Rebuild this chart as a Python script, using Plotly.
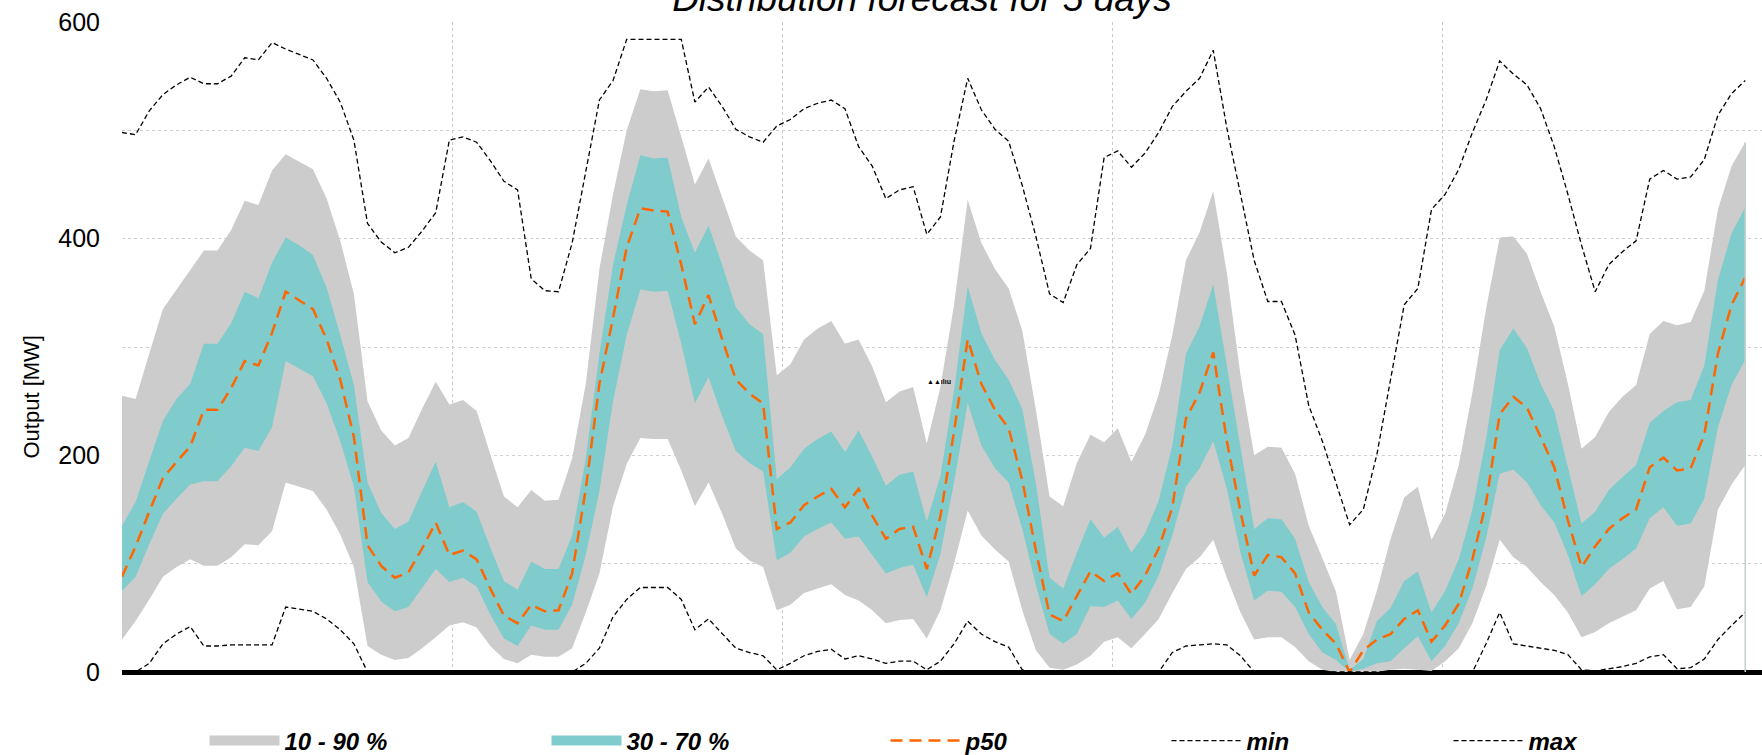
import plotly.graph_objects as go

# hourly index over 5 days
hours = list(range(120))

p10 = [30, 47, 67, 88, 97, 104, 98, 98, 106, 118,
       117, 130, 175, 171, 167, 150, 127, 97, 24, 16,
       11, 13, 22, 32, 43, 46, 41, 24, 12, 8,
       16, 14, 14, 22, 55, 91, 153, 192, 216, 215,
       215, 186, 153, 175, 146, 114, 103, 97, 57, 62,
       73, 77, 81, 71, 66, 57, 45, 48, 49, 31,
       57, 100, 149, 126, 113, 102, 57, 20, 4, 2,
       7, 15, 28, 32, 22, 35, 49, 73, 95, 106,
       122, 87, 55, 30, 32, 32, 23, 10, 2, 0,
       0, 0, 0, 2, 3, 2, 1, 10, 22, 45,
       79, 122, 106, 97, 83, 71, 55, 32, 37, 45,
       51, 57, 77, 84, 58, 60, 79, 150, 173, 191]

p30 = [75, 88, 118, 146, 160, 173, 176, 176, 190, 207,
       204, 226, 287, 280, 273, 248, 213, 171, 83, 65,
       56, 60, 77, 95, 83, 87, 79, 53, 31, 24,
       43, 39, 39, 62, 108, 167, 250, 311, 353, 351,
       352, 303, 248, 272, 236, 204, 193, 185, 103, 110,
       125, 132, 138, 123, 125, 108, 91, 96, 99, 69,
       109, 175, 248, 209, 188, 175, 132, 80, 35, 26,
       35, 61, 60, 66, 49, 64, 89, 126, 171, 188,
       213, 169, 110, 66, 75, 74, 60, 35, 18, 11,
       0, 3, 8, 10, 22, 33, 10, 24, 45, 77,
       123, 183, 187, 175, 154, 138, 108, 70, 81, 95,
       104, 114, 142, 152, 135, 137, 160, 226, 265, 288]

p50 = [88, 116, 148, 179, 194, 208, 242, 242, 262, 287,
       283, 313, 351, 343, 335, 307, 270, 217, 117, 98,
       87, 92, 114, 138, 108, 112, 104, 77, 52, 45,
       62, 56, 57, 91, 169, 266, 327, 392, 428, 426,
       425, 376, 321, 348, 307, 270, 257, 248, 132, 138,
       154, 162, 169, 152, 169, 144, 123, 132, 134, 95,
       144, 222, 307, 266, 242, 225, 177, 112, 53, 47,
       70, 93, 84, 91, 72, 89, 114, 152, 234, 258,
       295, 213, 148, 89, 108, 106, 91, 55, 39, 26,
       0, 20, 30, 35, 49, 57, 28, 43, 63, 104,
       156, 238, 254, 244, 217, 189, 140, 97, 116, 132,
       142, 150, 189, 198, 186, 188, 219, 294, 339, 364]

p70 = [135, 157, 195, 232, 252, 266, 303, 303, 322, 351,
       345, 378, 401, 394, 385, 355, 311, 265, 175, 147,
       132, 139, 167, 194, 152, 157, 148, 115, 84, 76,
       102, 95, 95, 126, 197, 294, 376, 431, 477, 474,
       475, 420, 387, 412, 376, 337, 321, 312, 178, 189,
       206, 215, 222, 203, 223, 199, 172, 182, 185, 139,
       181, 260, 356, 313, 288, 270, 243, 174, 87, 77,
       110, 141, 124, 134, 110, 128, 158, 209, 294, 319,
       358, 282, 209, 132, 142, 141, 123, 83, 60, 44,
       2, 12, 47, 59, 84, 93, 55, 75, 104, 150,
       215, 297, 317, 299, 266, 241, 189, 137, 148, 168,
       180, 191, 230, 241, 249, 251, 283, 362, 405, 429]

p90 = [255, 252, 294, 335, 353, 371, 389, 389, 408, 435,
       431, 463, 478, 471, 464, 437, 398, 349, 250, 223,
       209, 216, 243, 268, 247, 251, 241, 201, 162, 152,
       168, 158, 159, 197, 266, 372, 441, 500, 538, 536,
       537, 494, 450, 474, 439, 402, 389, 380, 274, 284,
       307, 317, 324, 303, 307, 282, 249, 259, 263, 211,
       263, 339, 436, 396, 372, 354, 315, 242, 162, 153,
       193, 219, 212, 225, 194, 219, 256, 311, 380, 406,
       444, 368, 274, 200, 208, 207, 183, 135, 105, 74,
       11, 35, 75, 123, 161, 171, 122, 146, 191, 258,
       335, 401, 402, 386, 351, 319, 266, 206, 217, 240,
       254, 265, 312, 324, 320, 323, 352, 427, 467, 489]

p_min = [0, 0, 8, 26, 35, 42, 24, 24, 25, 25,
         25, 25, 60, 58, 56, 49, 39, 26, 0, 0,
         0, 0, 0, 0, 0, 0, 0, 0, 0, 0,
         0, 0, 0, 0, 8, 22, 51, 67, 78, 78,
         78, 67, 39, 49, 35, 22, 18, 15, 2, 8,
         15, 19, 21, 12, 15, 12, 8, 10, 10, 2,
         10, 26, 47, 35, 28, 23, 2, 0, 0, 0,
         0, 0, 0, 0, 0, 0, 0, 18, 24, 25,
         26, 25, 15, 0, 0, 0, 0, 0, 0, 0,
         0, 0, 0, 0, 0, 0, 0, 0, 0, 0,
         26, 55, 26, 24, 22, 20, 16, 2, 1, 3,
         5, 8, 14, 16, 3, 4, 12, 30, 43, 55]

p_max = [498, 496, 518, 533, 542, 549, 543, 543, 550, 567,
         565, 581, 575, 570, 565, 548, 526, 491, 414, 397,
         387, 392, 407, 424, 491, 494, 489, 472, 453, 445,
         363, 352, 351, 396, 461, 528, 546, 584, 584, 584,
         584, 584, 526, 540, 522, 501, 494, 489, 504, 510,
         520, 525, 528, 520, 485, 467, 437, 445, 448, 404,
         420, 490, 548, 519, 501, 490, 449, 402, 349, 341,
         376, 391, 475, 481, 466, 479, 498, 522, 536, 548,
         574, 502, 441, 380, 342, 342, 311, 246, 213, 175,
         136, 150, 201, 270, 339, 354, 427, 441, 464, 498,
         528, 564, 552, 542, 520, 485, 441, 394, 351, 376,
         388, 398, 455, 463, 455, 457, 473, 514, 534, 546]

y_ticks = [0, 100, 200, 300, 400, 500, 600]
y_ticktext = ["0", "", "200", "", "400", "", "600"]
day_lines = [24.2, 48.4, 72.6, 96.8]

GRAY = "#cccccc"
TEAL = "#80cccc"
ORANGE = "#ff6600"
FONT = "Liberation Sans, Arial, sans-serif"

fig = go.Figure()

# bands
fig.add_trace(go.Scatter(x=hours, y=p10, mode="lines", line=dict(width=0, color=GRAY),
                         showlegend=False, hoverinfo="skip"))
fig.add_trace(go.Scatter(x=hours, y=p90, mode="lines", line=dict(width=0, color=GRAY),
                         fill="tonexty", fillcolor=GRAY, showlegend=False, name="10 - 90 %"))
fig.add_trace(go.Scatter(x=hours, y=p30, mode="lines", line=dict(width=0, color=TEAL),
                         showlegend=False, hoverinfo="skip"))
fig.add_trace(go.Scatter(x=hours, y=p70, mode="lines", line=dict(width=0, color=TEAL),
                         fill="tonexty", fillcolor=TEAL, showlegend=False, name="30 - 70 %"))

# legend entries for the bands
fig.add_trace(go.Scatter(x=[None], y=[None], mode="lines", line=dict(color=GRAY, width=10),
                         name="10 - 90 %", legendwidth=257))
fig.add_trace(go.Scatter(x=[None], y=[None], mode="lines", line=dict(color=TEAL, width=10),
                         name="30 - 70 %", legendwidth=254))

# lines
fig.add_trace(go.Scatter(x=hours, y=p50, mode="lines", name="p50", legendwidth=196,
                         line=dict(color=ORANGE, width=2.5, dash="12px,7px")))
fig.add_trace(go.Scatter(x=hours, y=p_min, mode="lines", name="min", legendwidth=197,
                         line=dict(color="black", width=1.3, dash="5px,3px")))
fig.add_trace(go.Scatter(x=hours, y=p_max, mode="lines", name="max", legendwidth=80,
                         line=dict(color="black", width=1.3, dash="5px,3px")))

# right edge of the band area
fig.add_shape(type="line", x0=hours[-1], x1=hours[-1], y0=0, y1=p90[-1],
              line=dict(color="#c4d0d0", width=1.5), layer="above")

fig.update_layout(
    width=1762, height=755,
    margin=dict(l=122, r=0, t=22, b=83),
    paper_bgcolor="white", plot_bgcolor="white",
    font=dict(family=FONT, color="black"),
    title=dict(text="Distribution forecast for 5 days",
               font=dict(size=37, style="italic", color="black", family=FONT),
               xref="container", x=922 / 1762, xanchor="center",
               yref="container", y=1 - 11 / 755, yanchor="bottom"),
    xaxis=dict(range=[0, 120.23], tickvals=day_lines, showticklabels=False, ticks="",
               showgrid=True, gridcolor="#c8c8c8", griddash="dot", gridwidth=1,
               zeroline=False, showline=False, fixedrange=True),
    yaxis=dict(range=[0, 600], tickvals=y_ticks, ticktext=y_ticktext, ticks="",
               tickfont=dict(size=25, color="black", family=FONT), ticklabelstandoff=21,
               showgrid=True, gridcolor="#d0d0d0", griddash="dot", gridwidth=1,
               zeroline=True, zerolinecolor="black", zerolinewidth=5,
               showline=False, fixedrange=True),
    legend=dict(orientation="h", traceorder="normal",
                xref="container", x=204.5 / 1762, xanchor="left",
                yref="container", y=1 - 741 / 755, yanchor="middle",
                font=dict(size=24, family=FONT, weight="bold", style="italic", color="black"),
                itemwidth=70, bgcolor="rgba(0,0,0,0)", borderwidth=0),
    showlegend=True,
)

# y-axis title
fig.add_annotation(text="Output [MW]", textangle=-90, xref="paper", yref="paper",
                   x=-(122 - 31) / 1640, y=(672 - 397.5) / 650, xanchor="center", yanchor="middle",
                   showarrow=False, font=dict(size=22, family=FONT, color="black"))

# small marker glyph inside the chart
fig.add_annotation(text="▲▲ılıu", x=59.9, y=268, xref="x", yref="y", showarrow=False,
                   font=dict(size=7, family=FONT, color="black", weight="bold"))

fig.write_html("out.html", include_plotlyjs=True, config={"displayModeBar": False},
               post_script="document.body.style.margin='0';document.body.style.overflow='hidden';")
